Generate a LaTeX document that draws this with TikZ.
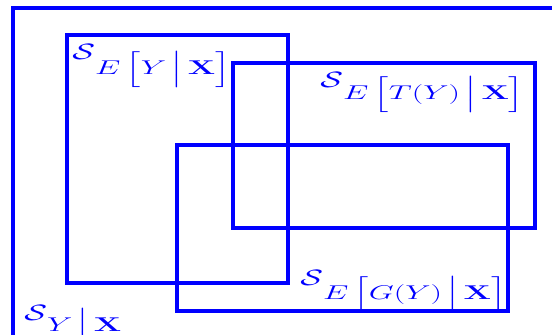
\documentclass[tikz,border=0pt]{standalone}
\usepackage{fix-cm}
\usepackage{amssymb}
\usepackage{amsmath}
\usepackage{graphicx}
\usepackage{tikz}

% subscript set at its own size, dropped below the S
\newcommand{\subtxt}[2][13.5pt]{\raisebox{-#1}{\scalebox{1.08}[1]{\fontsize{17}{20}\selectfont$#2$}}}

\tikzset{
  setbox/.style={draw=blue, line width=3.3pt},
  setlabel/.style={text=blue, inner sep=0pt, anchor=base west, xscale=1.5,
    font=\fontsize{19}{23}\selectfont}
}

\begin{document}
\begin{tikzpicture}[x=0.03cm, y=-0.03cm]
\useasboundingbox (0,0) rectangle (552,335);
\clip (0,0) rectangle (552,335);
% outer set, cut off on the right and at the bottom
\draw[setbox] (13,8) rectangle (575,355);
% the three inner sets
\draw[setbox] (67,35) rectangle (288,283);
\draw[setbox] (233,63) rectangle (535,228);
\draw[setbox] (177,145) rectangle (508,311);
% labels
\node[setlabel] (lblyx) at (72,59) {$\mathcal{S}$\subtxt{E\,\Bigl[Y\,\Big|\,\mathbf{X}\Bigr]}};
\node[setlabel] (lblt) at (320,87) {$\mathcal{S}$\subtxt[10.5pt]{E\,\Bigl[T(Y)\,\Big|\,\mathbf{X}\Bigr]}};
\node[setlabel] (lblg) at (300,285) {$\mathcal{S}$\subtxt[12.5pt]{E\,\Bigl[G(Y)\,\Big|\,\mathbf{X}\Bigr]}};
\node[setlabel] (lbly) at (24,320) {$\mathcal{S}$\subtxt[10pt]{Y\,\Big|\,\mathbf{X}}};
\end{tikzpicture}
\end{document}
